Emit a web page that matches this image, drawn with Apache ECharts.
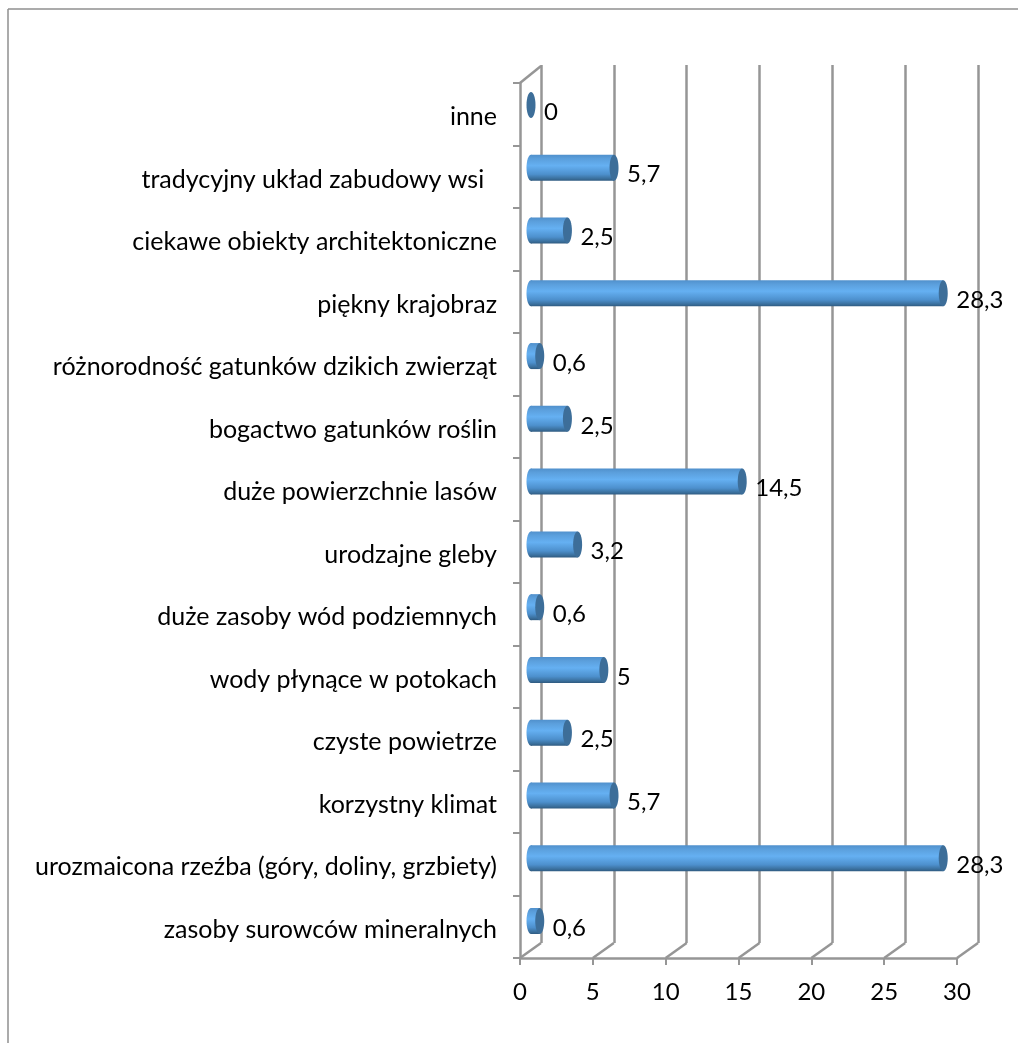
<!DOCTYPE html>
<html>
<head>
<meta charset="utf-8">
<style>html,body{margin:0;padding:0;background:#fff}#c{width:1018px;height:1043px}</style>
<script src="https://cdn.jsdelivr.net/npm/echarts@6/dist/echarts.min.js"></script>
</head>
<body>
<div id="c"></div>
<script>
const categories = ["zasoby surowców mineralnych","urozmaicona rzeźba (góry, doliny, grzbiety)","korzystny klimat","czyste powietrze","wody płynące w potokach","duże zasoby wód podziemnych","urodzajne gleby","duże powierzchnie lasów","bogactwo gatunków roślin","różnorodność gatunków dzikich zwierząt","piękny krajobraz","ciekawe obiekty architektoniczne","tradycyjny układ zabudowy wsi  ","inne"];
const values = [0.6,28.3,5.7,2.5,5,0.6,3.2,14.5,2.5,0.6,28.3,2.5,5.7,0];
const xTicks = [0,5,10,15,20,25,30];

const GRAY = '#969696';
const FONT = 'Lato, "Open Sans", sans-serif';
const DEPTH = [21,-17];
const barGrad = new echarts.graphic.LinearGradient(0,0,0,1,[
  {offset:0,color:'#5090cc'},{offset:0.15,color:'#5b9fdc'},{offset:0.42,color:'#65b0f2'},
  {offset:0.75,color:'#4d90cd'},{offset:0.92,color:'#3a6f9c'},{offset:1,color:'#2f5a80'}]);
const chart = echarts.init(document.getElementById('c'),null,{renderer:'canvas'});
const hiddenAxis = {axisLabel:{show:false},axisLine:{show:false},axisTick:{show:false},splitLine:{show:false}};

chart.setOption({
  animation:false,
  backgroundColor:'#fff',
  graphic:[
    {type:'line',silent:true,shape:{x1:8,y1:9,x2:1018,y2:9},style:{stroke:'#8f8f8f',lineWidth:1.5}},
    {type:'line',silent:true,shape:{x1:8,y1:9,x2:8,y2:1043},style:{stroke:'#8f8f8f',lineWidth:1.5}}
  ],
  grid:[
    {left:520,width:437,top:83,height:875},
    {left:531,width:437,top:73.6,height:878.8},
    {left:541,width:437,top:65,height:878}
  ],
  xAxis:[
    {type:'value',gridIndex:0,min:0,max:30,interval:5,
      axisLine:{show:true,lineStyle:{color:GRAY,width:2.5}},
      axisTick:{show:true,length:7,lineStyle:{color:GRAY,width:2}},
      axisLabel:{color:'#000',fontFamily:FONT,fontSize:24,margin:22},
      splitLine:{show:false}},
    Object.assign({type:'value',gridIndex:1,min:0,max:30,interval:5},hiddenAxis),
    {type:'value',gridIndex:2,min:0,max:30,interval:5,
      axisLabel:{show:false},axisLine:{show:false},axisTick:{show:false},
      splitLine:{show:true,lineStyle:{color:GRAY,width:2.5}}}
  ],
  yAxis:[
    {type:'category',gridIndex:0,data:categories,
      axisLine:{show:true,onZero:false,lineStyle:{color:GRAY,width:2.5}},
      axisTick:{show:true,length:7,alignWithLabel:false,lineStyle:{color:GRAY,width:2}},
      axisLabel:{color:'#000',fontFamily:FONT,fontSize:25,margin:23,interval:0,
        lineHeight:28,verticalAlign:'top',padding:[-11,0,0,0]},
      splitLine:{show:false}},
    Object.assign({type:'category',gridIndex:1,data:categories},hiddenAxis),
    Object.assign({type:'category',gridIndex:2,data:categories},hiddenAxis)
  ],
  series:[
    { // wall and floor edges joining the front plane to the back plane
      type:'custom',xAxisIndex:0,yAxisIndex:0,z:1,silent:true,clip:false,
      data:xTicks.map(v=>[v,0]),
      encode:{x:0,y:1},
      renderItem(params,api){
        const p=api.coord([api.value(0),0]);
        const h=api.size([0,1])[1];
        const y=p[1]+h/2;
        const children=[{type:'line',shape:{x1:p[0],y1:y,x2:p[0]+DEPTH[0],y2:y-15},style:{stroke:GRAY,lineWidth:2.5}}];
        if(api.value(0)===0){
          const t=api.coord([0,categories.length-1])[1]-h/2;
          children.push({type:'line',shape:{x1:p[0],y1:t,x2:p[0]+DEPTH[0],y2:t+DEPTH[1]},style:{stroke:GRAY,lineWidth:2.5}});
        }
        return {type:'group',children};
      }
    },
    { // rounded near end of each cylinder
      type:'custom',xAxisIndex:1,yAxisIndex:1,z:3,silent:true,clip:false,
      data:values.map((v,i)=>[0,i,v]),
      encode:{x:0,y:1},
      renderItem(params,api){
        if(api.value(2)===0) return null;
        const p=api.coord([0,api.value(1)]);
        return {type:'ellipse',shape:{cx:p[0],cy:p[1],rx:4.5,ry:13},style:{fill:barGrad}};
      }
    },
    {
      type:'bar',xAxisIndex:1,yAxisIndex:1,z:4,barWidth:26,
      data:values,
      itemStyle:{color:barGrad},
      label:{show:true,position:'right',distance:13,offset:[0,7],color:'#000',
        fontFamily:FONT,fontSize:24,
        formatter:p=>String(p.value).replace('.',',')}
    },
    { // far end cap of each cylinder
      type:'custom',xAxisIndex:1,yAxisIndex:1,z:5,silent:true,clip:false,
      data:values.map((v,i)=>[v,i]),
      encode:{x:0,y:1},
      renderItem(params,api){
        const p=api.coord([api.value(0),api.value(1)]);
        return {type:'ellipse',shape:{cx:p[0],cy:p[1],rx:4.5,ry:13},style:{fill:'#3d6e99'}};
      }
    }
  ]
});
</script>
</body>
</html>
